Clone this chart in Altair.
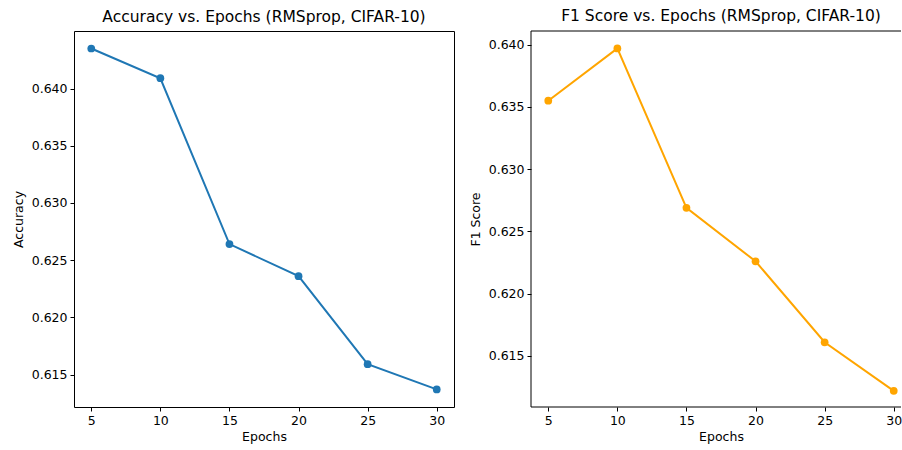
import altair as alt
import pandas as pd

epochs = [5, 10, 15, 20, 25, 30]
accuracy = [0.6435, 0.6409, 0.6264, 0.6236, 0.6159, 0.6137]
f1_score = [0.6355, 0.6397, 0.6269, 0.6226, 0.6161, 0.6122]

y_ticks = [0.615, 0.620, 0.625, 0.630, 0.635, 0.640]
x_ticks = [5, 10, 15, 20, 25, 30]

FONT = "DejaVu Sans"
PLOT_W = 380
PLOT_H = 376
X_LO, X_HI = 3.75, 31.25


def panel(values, field, title, color, y_domain, view_w, title_dx, frame):
    df = pd.DataFrame({"Epochs": epochs, field: values})
    # keep the same px-per-epoch when the view is narrower than PLOT_W
    x_hi = X_LO + (X_HI - X_LO) * view_w / PLOT_W
    x = alt.X(
        "Epochs:Q",
        scale=alt.Scale(domain=[X_LO, x_hi], nice=False, zero=False),
        axis=alt.Axis(values=x_ticks, title="Epochs", format="d",
                      titleX=PLOT_W / 2),
    )
    y = alt.Y(
        f"{field}:Q",
        scale=alt.Scale(domain=y_domain, nice=False, zero=False),
        axis=alt.Axis(values=y_ticks, title=field, format=".3f"),
    )
    base = alt.Chart(df).encode(x=x, y=y)
    line = base.mark_line(color=color, strokeWidth=2)
    pts = base.mark_circle(color=color, size=60, opacity=1)
    layers = [line, pts]
    if frame:
        # open frame: left, top and bottom edges only (right edge is cut off)
        edge = alt.Chart(df.head(1)).mark_rule(color="#000", strokeWidth=1)
        layers += [
            edge.encode(x=alt.value(0), y=alt.value(0), y2=alt.value(PLOT_H)),
            edge.encode(x=alt.value(0), x2=alt.value(view_w), y=alt.value(0)),
            edge.encode(x=alt.value(0), x2=alt.value(view_w), y=alt.value(PLOT_H)),
        ]
    chart = alt.layer(*layers).properties(
        width=view_w,
        height=PLOT_H,
        title=alt.TitleParams(title, fontSize=15.5, fontWeight="normal", font=FONT,
                              color="#000", offset=6, dx=title_dx),
    )
    if frame:
        chart = chart.properties(view=alt.ViewBackground(stroke=None))
    return chart


left = panel(accuracy, "Accuracy", "Accuracy vs. Epochs (RMSprop, CIFAR-10)",
             "#1f77b4", [0.61216, 0.64503], PLOT_W, 0, False)
right = panel(f1_score, "F1 Score", "F1 Score vs. Epochs (RMSprop, CIFAR-10)",
              "#ffa500", [0.6109, 0.6411], 370, 5, True)

chart = (
    alt.hconcat(left, right, spacing=77, bounds="flush")
    .properties(padding={"left": 11, "top": 9, "right": 0, "bottom": 5},
                background="white")
    .configure_view(stroke="#000", strokeWidth=1)
    .configure_axis(
        grid=False,
        domain=False,
        tickColor="#000",
        tickSize=4,
        tickWidth=1,
        labelFont=FONT,
        labelFontSize=12.5,
        labelColor="#000",
        labelPadding=3,
        titleFont=FONT,
        titleFontSize=12.5,
        titleFontWeight="normal",
        titleColor="#000",
    )
    .configure_axisY(titlePadding=6)
    .configure_axisX(titlePadding=4)
)

chart.save("out.html", embed_options={"renderer": "svg", "actions": False})
